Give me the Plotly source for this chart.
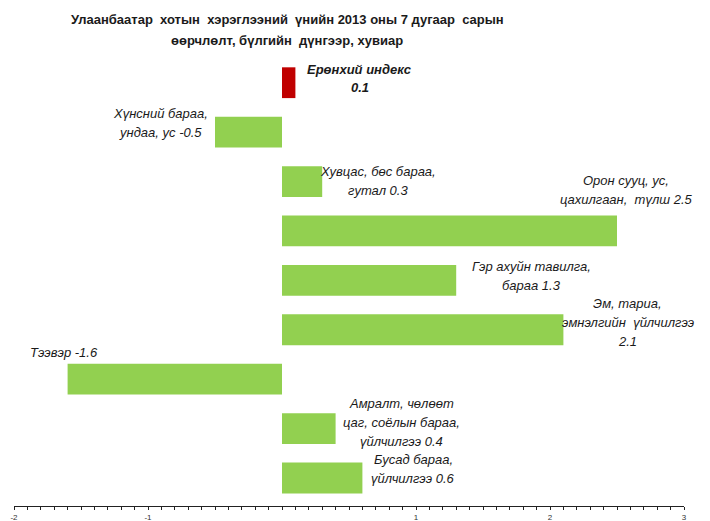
import plotly.graph_objects as go

categories = [
    "Ерөнхий индекс",
    "Хүнсний бараа, ундаа, ус",
    "Хувцас, бөс бараа, гутал",
    "Орон сууц, ус, цахилгаан, түлш",
    "Гэр ахуйн тавилга, бараа",
    "Эм, тариа, эмнэлгийн үйлчилгээ",
    "Тээвэр",
    "Амралт, чөлөөт цаг, соёлын бараа, үйлчилгээ",
    "Бусад бараа, үйлчилгээ",
]
values = [0.1, -0.5, 0.3, 2.5, 1.3, 2.1, -1.6, 0.4, 0.6]
label_lines = [
    ["Ерөнхий индекс", "0.1"],
    ["Хүнсний бараа,", "ундаа, ус -0.5"],
    ["Хувцас, бөс бараа,", "гутал 0.3"],
    ["Орон сууц, ус,", "цахилгаан,  түлш 2.5"],
    ["Гэр ахуйн тавилга,", "бараа 1.3"],
    ["Эм, тариа,", "эмнэлгийн  үйлчилгээ", "2.1"],
    ["Тээвэр -1.6"],
    ["Амралт, чөлөөт", "цаг, соёлын бараа,", "үйлчилгээ 0.4"],
    ["Бусад бараа,", "үйлчилгээ 0.6"],
]
title_lines = [
    "Улаанбаатар  хотын  хэрэглээний  үнийн 2013 оны 7 дугаар  сарын",
    "өөрчлөлт, бүлгийн  дүнгээр, хувиар",
]
x_ticks = [-2, -1, 0, 1, 2, 3]
x_tick_text = ["-2", "-1", "", "1", "2", "3"]

# label placement (style/layout)
label_x = [0.58, -0.91, 0.72, 2.57, 1.86, 2.58, -1.63, 0.89, 0.98]
label_top_offset = [13, 18.5, 10.5, 50.5, 13.5, 26.5, 26.5, 25.5, 18.5]
line_step = 19

colors = ["#C00000"] + ["#92D050"] * (len(values) - 1)
FONT = "Liberation Sans, Arial"

# the page body adds an 8px offset; margins compensate for it
OFF = 8
W, H = 710, 521
ML, MR, MT, MB = 14 - OFF, 26 + OFF, 58 - OFF, 15 + OFF

fig = go.Figure(go.Bar(
    x=values, y=categories, orientation="h",
    marker=dict(color=colors, line=dict(width=0)),
    hoverinfo="skip",
))

annotations = []
for i, (cat, lines) in enumerate(zip(categories, label_lines)):
    for j, ln in enumerate(lines):
        txt = "<b><i>%s</i></b>" % ln if i == 0 else "<i>%s</i>" % ln
        annotations.append(dict(
            x=label_x[i], y=cat, xref="x", yref="y",
            text=txt, showarrow=False, xanchor="center", yanchor="middle",
            yshift=label_top_offset[i] - j * (18 if i == 0 else line_step),
            font=dict(family=FONT, size=13, color="#1a1a1a"),
        ))

pw, ph = W - ML - MR, H - MT - MB
for k, t in enumerate(title_lines):
    annotations.append(dict(
        x=(287 - OFF - ML) / pw, y=1 + (MT - (20 - OFF + 21 * k)) / ph,
        xref="paper", yref="paper",
        text="<b>%s</b>" % t, showarrow=False, xanchor="center", yanchor="middle",
        font=dict(family=FONT, size=13, color="#1a1a1a"),
    ))

fig.update_layout(
    width=W, height=H,
    margin=dict(l=ML, r=MR, t=MT, b=MB, autoexpand=False),
    plot_bgcolor="white", paper_bgcolor="white",
    bargap=0.377,
    showlegend=False,
    annotations=annotations,
    xaxis=dict(
        range=[-2, 3], showgrid=False, zeroline=False, automargin=False,
        showline=True, linecolor="#222222", linewidth=1,
        ticks="outside", ticklen=3, tickcolor="#222222", tickwidth=1,
        tickvals=x_ticks, ticktext=x_tick_text,
        tickfont=dict(family="Liberation Sans, Arial", size=8, color="#333333"),
        ticklabelstandoff=0,
        minor=dict(dtick=0.1, ticks="outside", ticklen=3, tickcolor="#222222", tickwidth=1),
    ),
    yaxis=dict(autorange="reversed", visible=False, showgrid=False, automargin=False),
)

fig.write_html("out.html")
